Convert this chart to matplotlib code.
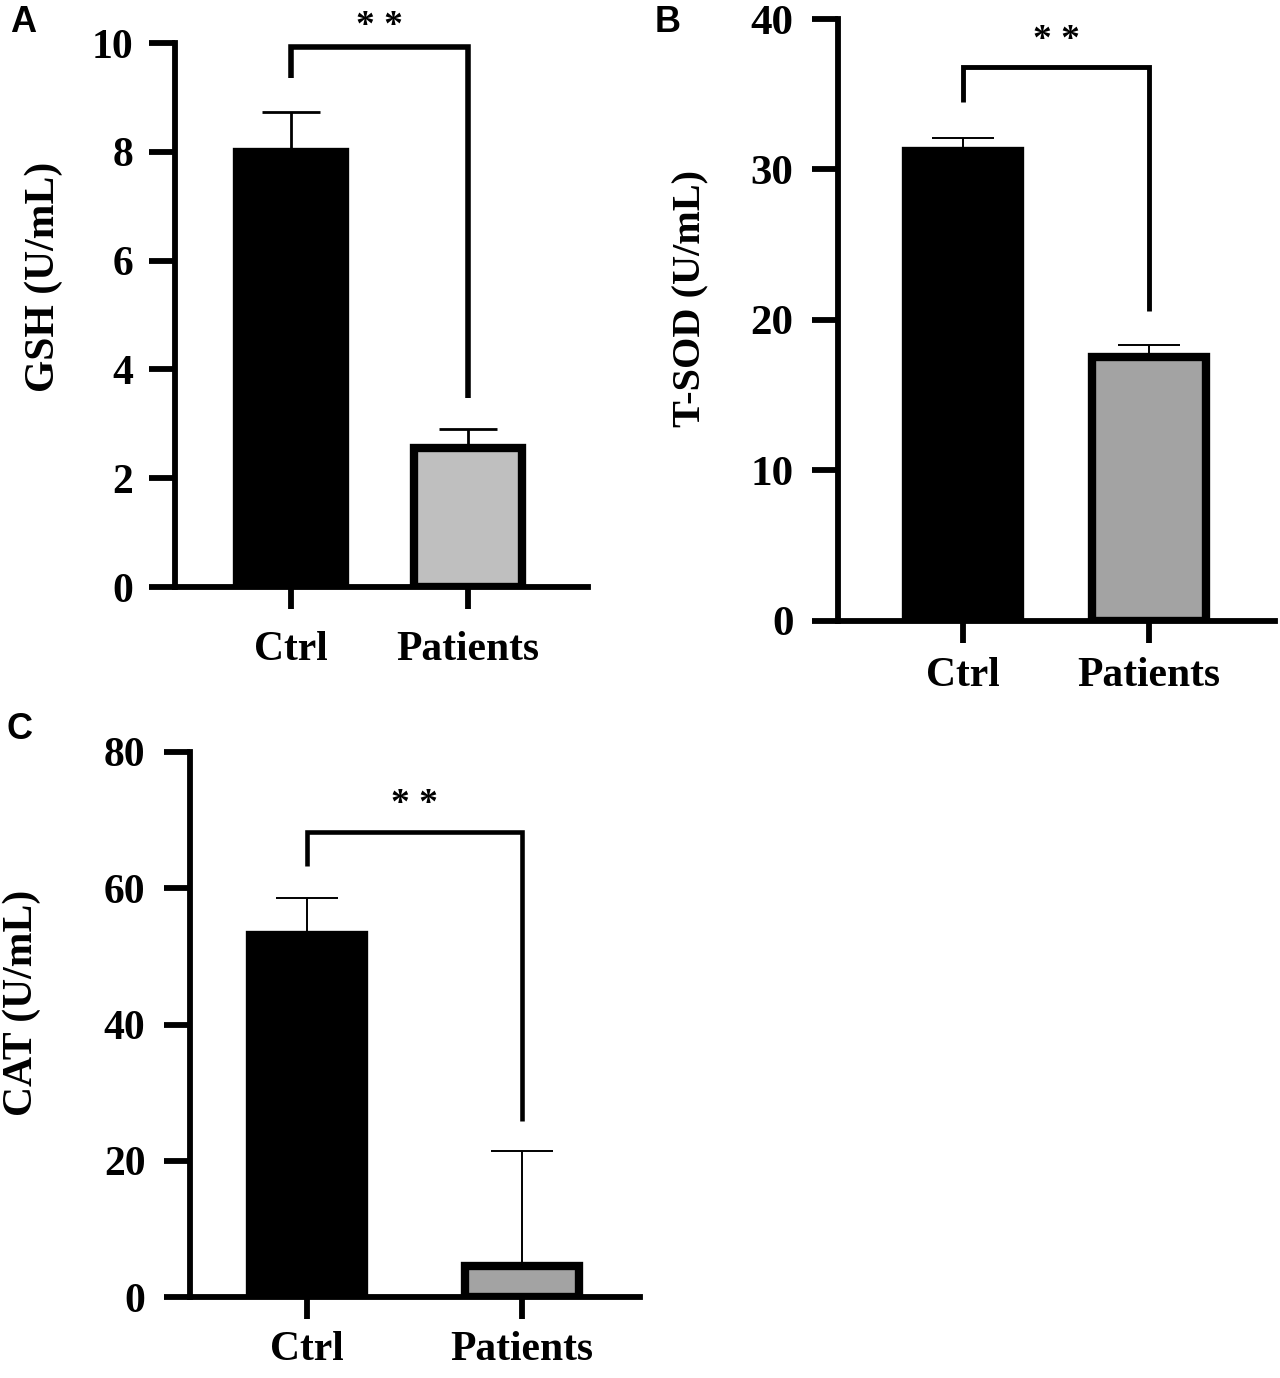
import matplotlib
matplotlib.use("Agg")
import matplotlib.pyplot as plt

# ---------------- data ----------------
categories = ["Ctrl", "Patients"]

gsh_mean = [8.0, 2.55]
gsh_err = [0.73, 0.35]
gsh_bracket = [9.35, 9.93, 3.48]   # left leg end, top, right leg end
gsh_star = 10.45

sod_mean = [31.25, 17.55]
sod_err = [0.81, 0.76]
sod_bracket = [34.5, 36.8, 20.6]
sod_star = 39.06

cat_mean = [53.2, 4.6]
cat_err = [5.3, 16.8]
cat_bracket = [63.3, 68.2, 25.9]
cat_star = 73.4

gsh_ticks = [0, 2, 4, 6, 8, 10]
sod_ticks = [0, 10, 20, 30, 40]
cat_ticks = [0, 20, 40, 60, 80]

# ---------------- style ----------------
SERIF = "Liberation Serif"
SANS = "Liberation Sans"
W, H = 1280, 1378
fig = plt.figure(figsize=(W / 100, H / 100), dpi=100)


def px_axes(x0, x1, y_top, y_bot):
    return [x0 / W, 1 - y_bot / H, (x1 - x0) / W, (y_bot - y_top) / H]


def panel(rect, means, errs, ticks, ylim, xlim, width, fill2, ylabel,
          bracket, star_y, tick_fs, ylab_fs, ylab_pos, err_lw, capsize,
          br_lw, xpad, ypad, star_fs):
    ax = fig.add_axes(rect)
    x = [0, 1]
    ax.bar(x, means, width=width, color=["black", fill2],
           edgecolor="black", linewidth=6, zorder=3)
    for xi, m, e in zip(x, means, errs):
        ax.errorbar([xi], [m], yerr=[[0], [e]], fmt="none", ecolor="black",
                    elinewidth=err_lw, capsize=capsize, capthick=err_lw,
                    zorder=2)
    ax.set_xlim(*xlim)
    ax.set_ylim(*ylim)
    ax.set_yticks(ticks)
    ax.set_xticks(x)
    ax.set_xticklabels(categories)
    for s in ["top", "right"]:
        ax.spines[s].set_visible(False)
    for s in ["left", "bottom"]:
        ax.spines[s].set_linewidth(4.2)
        ax.spines[s].set_capstyle("projecting")
    ax.tick_params(axis="y", length=19, width=4.2, pad=ypad,
                   labelsize=tick_fs)
    ax.tick_params(axis="x", length=16, width=4.2, pad=xpad, labelsize=30)
    for lab in ax.get_xticklabels() + ax.get_yticklabels():
        lab.set_fontfamily(SERIF)
        lab.set_fontweight("bold")
    ax.set_ylabel(ylabel, fontfamily=SERIF, fontweight="bold",
                  fontsize=ylab_fs, va="center", ha="center")
    ax.yaxis.set_label_coords(*ylab_pos)
    l_end, top, r_end = bracket
    ax.plot([0, 0, 1, 1], [l_end, top, top, r_end], color="black",
            lw=br_lw, clip_on=False, solid_joinstyle="miter",
            solid_capstyle="butt", zorder=4)
    ax.annotate("* *", xy=(0.5, star_y), xytext=(0, -5.5),
                textcoords="offset points", ha="center", va="center",
                fontfamily=SERIF, fontweight="bold", fontsize=star_fs,
                annotation_clip=False)
    return ax


# Panel A
panel(px_axes(175, 588, 43, 587), gsh_mean, gsh_err, gsh_ticks, (0, 10),
      (-0.655, 1.678), 0.61, "#bfbfbf", "GSH (U/mL)", gsh_bracket, gsh_star,
      tick_fs=30, ylab_fs=30, ylab_pos=(-0.317, 0.57), err_lw=2.0,
      capsize=21, br_lw=4.0, xpad=16, ypad=11, star_fs=27)

# Panel B
panel(px_axes(838, 1275, 19, 620.5), sod_mean, sod_err, sod_ticks, (0, 40),
      (-0.672, 1.677), 0.613, "#a3a3a3", "T-SOD (U/mL)", sod_bracket,
      sod_star, tick_fs=31, ylab_fs=29, ylab_pos=(-0.336, 0.535),
      err_lw=1.4, capsize=22, br_lw=3.5, xpad=10, ypad=13, star_fs=27)

# Panel C
panel(px_axes(190, 640, 752, 1297), cat_mean, cat_err, cat_ticks, (0, 80),
      (-0.544, 1.549), 0.53, "#a3a3a3", "CAT (U/mL)", cat_bracket, cat_star,
      tick_fs=30, ylab_fs=30, ylab_pos=(-0.373, 0.54), err_lw=1.4,
      capsize=22, br_lw=3.3, xpad=8.5, ypad=13, star_fs=27)

# Panel letters
for letter, px, py in [("A", 10, 32), ("B", 655, 32), ("C", 7, 739)]:
    fig.text(px / W, 1 - py / H, letter, fontfamily=SANS, fontweight="bold",
             fontsize=26, ha="left", va="baseline")

fig.savefig("out.png", dpi=100, facecolor="white")
